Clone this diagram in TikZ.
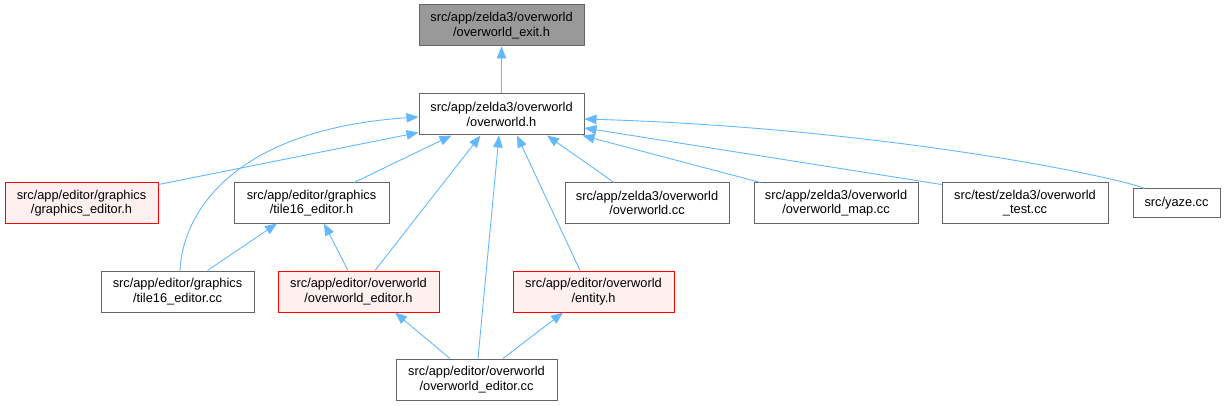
\documentclass[tikz,border=0pt]{standalone}
\usepackage{fontspec}
\setmainfont{Liberation Sans}
\usetikzlibrary{arrows.meta,calc}
\definecolor{edgeblue}{HTML}{63B8FF}
\definecolor{boxgray}{HTML}{666666}
\definecolor{pinkfill}{HTML}{FFF0F0}
\definecolor{darkfill}{HTML}{999999}
\begin{document}
\begin{tikzpicture}[x=1pt,y=-1pt,
  box/.style={draw=boxgray,fill=white,line width=1pt,minimum height=41pt,inner sep=0pt,align=center,
    font=\fontsize{12.8}{14.5}\selectfont},
  redbox/.style={box,draw=red,fill=pinkfill},
  edge/.style={draw=edgeblue,line width=0.9pt,-{Triangle[length=12pt,width=9.5pt]}}]
\useasboundingbox (0,0) rectangle (1225,406);
% nodes
\node[box,fill=darkfill,minimum width=165pt] (exit) at (501.5,25.5) {src/app/zelda3/overworld\\/overworld\_exit.h};
\node[box,minimum width=165pt] (ow) at (501.5,114.5) {src/app/zelda3/overworld\\/overworld.h};
\node[redbox,minimum width=153pt,minimum height=40pt] (ged) at (81.5,203) {src/app/editor/graphics\\/graphics\_editor.h};
\node[box,minimum width=155pt,minimum height=40pt] (t16h) at (311.5,203) {src/app/editor/graphics\\/tile16\_editor.h};
\node[box,minimum width=164pt,minimum height=40pt] (owcc) at (647,203) {src/app/zelda3/overworld\\/overworld.cc};
\node[box,minimum width=164pt,minimum height=40pt] (owmap) at (836,203) {src/app/zelda3/overworld\\/overworld\_map.cc};
\node[box,minimum width=166pt,minimum height=40pt] (owtest) at (1025,203) {src/test/zelda3/overworld\\\_test.cc};
\node[box,minimum width=87pt,minimum height=28pt] (yaze) at (1176.5,203) {src/yaze.cc};
\node[box,minimum width=153pt] (t16cc) at (177.5,291.5) {src/app/editor/graphics\\/tile16\_editor.cc};
\node[redbox,minimum width=161pt] (oweh) at (358.5,291.5) {src/app/editor/overworld\\/overworld\_editor.h};
\node[redbox,minimum width=161pt] (ent) at (593.5,291.5) {src/app/editor/overworld\\/entity.h};
\node[box,minimum width=161pt] (owecc) at (476.5,379.5) {src/app/editor/overworld\\/overworld\_editor.cc};
% edges
\draw[edge] (ow.north) -- (exit.south);
\draw[edge] ($(t16cc.north)+(2.5,0)$) .. controls +(3,-62) and +(-180,12) .. ($(ow.west)+(0,2.5)$);
\draw[edge] ($(ged.north east)+(0,2)$) -- ($(ow.west)+(0,18)$);
\draw[edge] ($(t16h.north)+(42.5,0)$) -- ($(ow.south)+(-50,0)$);
\draw[edge] ($(oweh.north)+(16.5,0)$) -- ($(ow.south)+(-21,0)$);
\draw[edge] ($(owecc.north)+(1.5,0)$) -- ($(ow.south)+(-2.5,0)$);
\draw[edge] ($(ent.north)+(-13.5,0)$) -- ($(ow.south)+(15.5,0)$);
\draw[edge] ($(owcc.north)+(-33,0)$) -- ($(ow.south)+(45.5,0)$);
\draw[edge] ($(owmap.north west)+(7,0)$) -- ($(ow.south east)+(-2,0)$);
\draw[edge] ($(owtest.north west)+(0,2)$) -- ($(ow.east)+(0,13.5)$);
\draw[edge] ($(yaze.north west)+(12,0)$) .. controls +(-25,-11) and +(300,9) .. ($(ow.east)+(0,4.5)$);
\draw[edge] ($(t16cc.north)+(30,0)$) -- ($(t16h.south)+(-34.5,0)$);
\draw[edge] ($(oweh.north)+(-10.5,0)$) -- ($(t16h.south)+(12.5,0)$);
\draw[edge] ($(owecc.north)+(-26.5,0)$) -- ($(oweh.south)+(36.5,0)$);
\draw[edge] ($(owecc.north)+(26.5,0)$) -- ($(ent.south)+(-30.5,0)$);
\end{tikzpicture}
\end{document}
